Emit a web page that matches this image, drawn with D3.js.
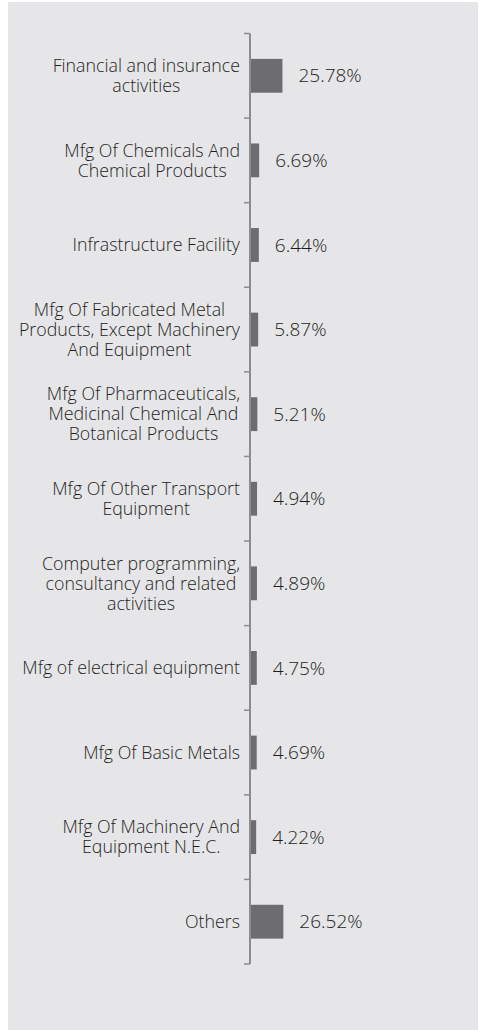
<!DOCTYPE html>
<html>
<head>
<meta charset="utf-8">
<script src="https://cdn.jsdelivr.net/npm/d3@7/dist/d3.min.js"></script>
<style>
  html, body { margin: 0; padding: 0; background: #ffffff; }
  svg { display: block; }
  .cat { font-family: "Open Sans", sans-serif; font-size: 17.8px; font-weight: 350; fill: #1e1e1e; }
  .val { font-family: "Open Sans", sans-serif; font-size: 19px; font-weight: 350; fill: #1e1e1e; }
</style>
</head>
<body>
<svg id="chart" width="482" height="1030"></svg>
<script>
// Sector labels (line breaks as displayed), their shares and the value labels
const categories = [
  ["Financial and insurance", "activities"],
  ["Mfg Of Chemicals And", "Chemical Products"],
  ["Infrastructure Facility"],
  ["Mfg Of Fabricated Metal", "Products, Except Machinery", "And Equipment"],
  ["Mfg Of Pharmaceuticals,", "Medicinal Chemical And", "Botanical Products"],
  ["Mfg Of Other Transport", "Equipment"],
  ["Computer programming,", "consultancy and related", "activities"],
  ["Mfg of electrical equipment"],
  ["Mfg Of Basic Metals"],
  ["Mfg Of Machinery And", "Equipment N.E.C."],
  ["Others"]
];
const values = [25.78, 6.69, 6.44, 5.87, 5.21, 4.94, 4.89, 4.75, 4.69, 4.22, 26.52];
const valueLabels = ["25.78%", "6.69%", "6.44%", "5.87%", "5.21%", "4.94%", "4.89%", "4.75%", "4.69%", "4.22%", "26.52%"];

const svg = d3.select("#chart");

// panel background
svg.append("rect")
  .attr("x", 8).attr("y", 2)
  .attr("width", 470).attr("height", 1028)
  .attr("fill", "#e6e6e8");

const axisX = 250;
const idx = d3.range(categories.length);

const y = d3.scaleBand()
  .domain(idx)
  .range([33.5, 964])
  .paddingInner(0.6)
  .paddingOuter(0.3);

const x = d3.scaleLinear().domain([0, 100]).range([0, 122]);

const step = y.step();
const cellTop = i => y(i) - step * y.paddingOuter();

// axis line with ticks at category boundaries
const g = svg.append("g");
const bounds = idx.map(cellTop).concat([cellTop(categories.length - 1) + step]);
g.append("line")
  .attr("x1", axisX).attr("x2", axisX)
  .attr("y1", bounds[0]).attr("y2", bounds[bounds.length - 1])
  .attr("stroke", "#8c8c8c").attr("stroke-width", 2);
g.selectAll("line.tick").data(bounds).join("line")
  .attr("class", "tick")
  .attr("x1", axisX - 6).attr("x2", axisX)
  .attr("y1", d => d).attr("y2", d => d)
  .attr("stroke", "#8c8c8c").attr("stroke-width", 1.5);

// bars
svg.selectAll("rect.bar").data(idx).join("rect")
  .attr("class", "bar")
  .attr("x", axisX + 1)
  .attr("y", i => y(i))
  .attr("width", i => x(values[i]))
  .attr("height", y.bandwidth())
  .attr("fill", "#6d6c70");

// value labels
svg.selectAll("text.val").data(idx).join("text")
  .attr("class", "val")
  .attr("x", i => axisX + 1 + x(values[i]) + 16)
  .attr("y", i => y(i) + y.bandwidth() / 2)
  .attr("dy", "0.35em")
  .text(i => valueLabels[i]);

// category labels: lines centred within a block right-aligned to the axis
const lineH = 20;
idx.forEach(i => {
  const lines = categories[i];
  const t = svg.append("text").attr("class", "cat").attr("text-anchor", "middle");
  const cy = y(i) + y.bandwidth() / 2;
  const spans = lines.map((s, k) => t.append("tspan")
    .attr("y", cy + (k - (lines.length - 1) / 2) * lineH)
    .attr("dy", "0.35em")
    .text(s));
  const w = d3.max(spans, s => s.node().getComputedTextLength());
  spans.forEach(s => s.attr("x", axisX - 10 - w / 2));
});
</script>
</body>
</html>
